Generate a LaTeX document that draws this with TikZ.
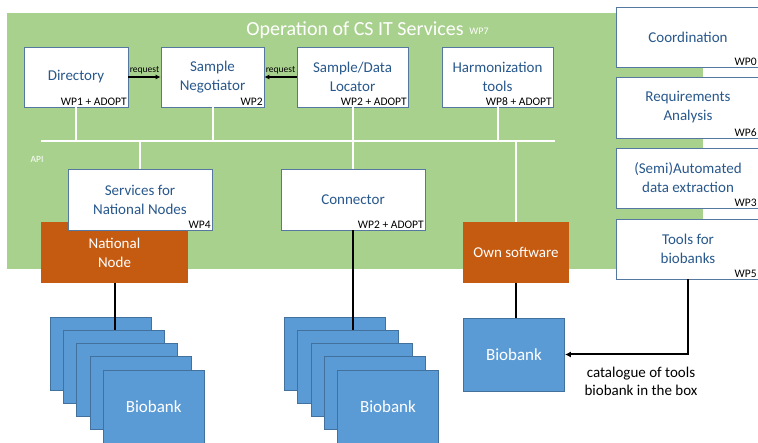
\documentclass[tikz,border=0pt]{standalone}
\usepackage{fontspec}
\setmainfont{Carlito}
\usetikzlibrary{arrows.meta}
\definecolor{opgreen}{RGB}{169,209,142}
\definecolor{boxline}{RGB}{84,120,160}
\definecolor{boxtext}{RGB}{40,88,140}
\definecolor{nodeorange}{RGB}{197,90,17}
\definecolor{bbblue}{RGB}{91,155,213}
\definecolor{bbline}{RGB}{65,113,156}

\begin{document}
\begin{tikzpicture}[x=1pt, y=-1pt, % 1pt = 1px, y は下向き
  wpbox/.style={draw=boxline, line width=0.8pt, fill=white, text=boxtext, align=center,
    font=\fontsize{15}{19}\selectfont, inner sep=0pt},
  wplabel/.style={font=\fontsize{11.5}{13}\selectfont, anchor=south east, inner sep=1.5pt},
  orangebox/.style={fill=nodeorange, text=white, align=center, font=\fontsize{15}{19}\selectfont, inner sep=0pt},
  biobank/.style={draw=bbline, line width=0.8pt, fill=bbblue, text=white, minimum width=101pt,
    minimum height=73pt, inner sep=0pt, font=\fontsize{17}{20}\selectfont},
  bus/.style={white, line width=2pt},
  link/.style={black, line width=2pt}]
  \useasboundingbox (0,0) rectangle (758,443); % 図の大きさ

  \fill[opgreen] (7,13) rectangle (703,269); % 背景
  \node[text=white, font=\fontsize{20}{24}\selectfont] (title) at (355,30) {Operation of CS IT Services};
  \node[text=white, font=\fontsize{10}{12}\selectfont] (wpseven) at (479,31) {WP7};

  % 上段のボックス
  \node[wpbox, minimum width=104pt, minimum height=60pt] (dir) at (76,77) {Directory};
  \node[wpbox, minimum width=103pt, minimum height=60pt] (neg) at (212.5,77) {Sample\\Negotiator};
  \node[wpbox, minimum width=111pt, minimum height=60pt] (loc) at (352.5,77) {Sample/Data\\Locator};
  \node[wpbox, minimum width=111pt, minimum height=60pt] (harm) at (497.5,77) {Harmonization\\tools};
  \node[wplabel] (dirwp) at (dir.south east) {WP1 + ADOPT};
  \node[wplabel] (negwp) at (neg.south east) {WP2};
  \node[wplabel] (locwp) at (loc.south east) {WP2 + ADOPT};
  \node[wplabel] (harmwp) at (harm.south east) {WP8 + ADOPT};

  \draw[link, line width=1.6pt, -{Latex[length=5pt,width=5pt]}] (dir.east) -- (neg.west)
    node[midway, above, font=\fontsize{9.5}{10}\selectfont, inner sep=2pt] (reqa) {request};
  \draw[link, line width=1.6pt, -{Latex[length=5pt,width=5pt]}] (loc.west) -- (neg.east)
    node[midway, above, font=\fontsize{9.5}{10}\selectfont, inner sep=2pt] (reqb) {request};

  % API バス
  \coordinate (busl) at (41,141);
  \coordinate (busr) at (555,141);
  \draw[bus] (busl) -- (busr);
  \foreach \n in {dir, neg, loc, harm} \draw[bus] (\n.south) -- (\n.south |- busl);
  \node[text=white, font=\fontsize{9.5}{11}\selectfont] (api) at (37,159) {API};

  % 中段
  \node[orangebox, minimum width=147pt, minimum height=61pt] (nat) at (114.5,252.5) {National\\Node};
  \node[wpbox, minimum width=144pt, minimum height=61pt] (serv) at (140,199.5) {Services for\\National Nodes};
  \node[wpbox, minimum width=144pt, minimum height=61pt] (con) at (353,199.5) {Connector};
  \node[orangebox, minimum width=106pt, minimum height=61pt] (own) at (516,252.5) {Own software};
  \node[wplabel] (servwp) at (serv.south east) {WP4};
  \node[wplabel] (conwp) at (con.south east) {WP2 + ADOPT};
  \draw[bus] (serv.north) -- (serv.north |- busl);
  \draw[bus] (con.north) -- (con.north |- busl);
  \draw[bus] (own.north) -- (own.north |- busl);

  % 右側のボックス
  \node[wpbox, minimum width=144pt, minimum height=60pt] (coord) at (688,37) {Coordination};
  \node[wpbox, minimum width=144pt, minimum height=61pt] (reqan) at (688,107.5) {Requirements\\Analysis};
  \node[wpbox, minimum width=144pt, minimum height=60pt] (semi) at (688,178) {(Semi)Automated\\data extraction};
  \node[wpbox, minimum width=144pt, minimum height=60pt] (tools) at (688,249) {Tools for\\biobanks};
  \node[wplabel, xshift=-2pt] (coordwp) at (coord.south east) {WP0};
  \node[wplabel, xshift=-2pt] (reqanwp) at (reqan.south east) {WP6};
  \node[wplabel, xshift=-2pt] (semiwp) at (semi.south east) {WP3};
  \node[wplabel, xshift=-2pt] (toolswp) at (tools.south east) {WP5};

  % バイオバンク
  \foreach \i in {1,...,4} {
    \node[biobank] (bba\i) at ({100.5+13.3*(\i-1)}, {353.5+13.3*(\i-1)}) {};
  }
  \node[biobank] (bba5) at (153.7,406.7) {Biobank};
  \foreach \i in {1,...,4} {
    \node[biobank] (bbb\i) at ({334.8+13.3*(\i-1)}, {353.5+13.3*(\i-1)}) {};
  }
  \node[biobank] (bbb5) at (388,406.7) {Biobank};
  \node[biobank] (bb) at (514,354.5) {Biobank};

  \draw[link] (nat.south) -- (nat.south |- bba2.north);
  \draw[link] (con.south) -- (con.south |- bbb2.north);
  \draw[link] (own.south) -- (own.south |- bb.north);
  \draw[link, -{Latex[length=6pt,width=6pt]}] (tools.south) |- (bb.east);
  \node[align=center, font=\fontsize{15}{18}\selectfont] (cat) at (641,381) {catalogue of tools\\biobank in the box};
\end{tikzpicture}
\end{document}
